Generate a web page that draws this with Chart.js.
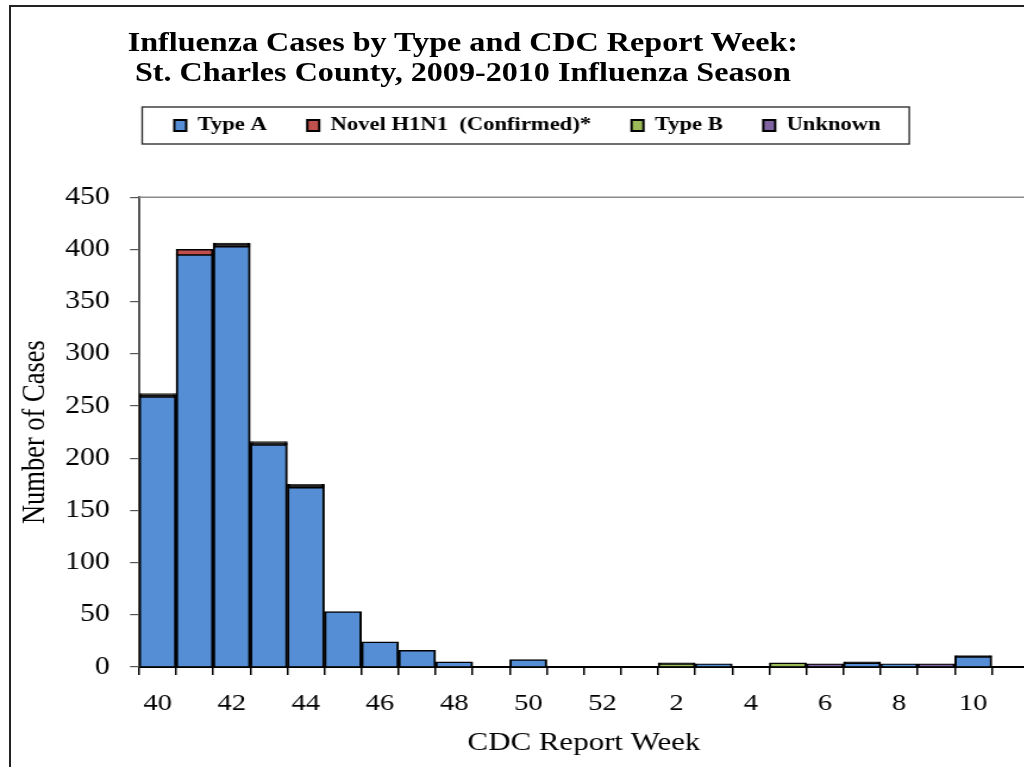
<!DOCTYPE html>
<html>
<head>
<meta charset="utf-8">
<script src="https://cdn.jsdelivr.net/npm/chart.js@4.4.1/dist/chart.umd.min.js"></script>
<style>
  html, body { margin: 0; padding: 0; background: #fff; overflow: hidden; width: 1024px; height: 767px; }
  #frame { position: absolute; left: 9px; top: 5px; width: 1100px; height: 800px; border-left: 2px solid #222; border-top: 2px solid #222; }
  /* the source picture is stretched sideways, so the whole chart is too */
  #wrap { position: absolute; left: 0; top: 0; width: 880px; height: 767px; transform: scaleX(1.19); transform-origin: 0 0; }
  #title { position: absolute; left: 0; top: 27px; width: 778px; text-align: center; font: bold 27px "Liberation Serif"; line-height: 30px; color: #000; }
  canvas { position: absolute; left: 0; top: 0; }
</style>
</head>
<body>
<div id="frame"></div>
<div id="wrap">
  <div id="title">Influenza Cases by Type and CDC Report Week:<br>St. Charles County, 2009-2010 Influenza Season</div>
  <canvas id="chart" width="880" height="767"></canvas>
</div>
<script>
// CDC report weeks, 2009-2010 season
const weeks = [40, 41, 42, 43, 44, 45, 46, 47, 48, 49, 50, 51, 52, 1, 2, 3, 4, 5, 6, 7, 8, 9, 10, 11];
const typeA   = [259, 395, 403, 213, 172, 53, 24, 16, 5, 0, 7, 0, 0, 0, 0, 3, 0, 0, 0, 4, 3, 0, 10, 0];
const novel   = [1, 5, 1, 1, 1, 0, 0, 0, 0, 0, 0, 0, 0, 0, 0, 0, 0, 0, 0, 0, 0, 0, 0, 0];
const typeB   = [1, 0, 1, 1, 1, 0, 0, 0, 0, 0, 0, 0, 0, 0, 3, 0, 0, 4, 0, 0, 0, 0, 0, 0];
const unknown = [1, 0, 1, 1, 1, 0, 0, 0, 0, 0, 0, 0, 0, 0, 1, 0, 0, 0, 3, 1, 0, 3, 1, 0];

const colors = ["#558ED5", "#C0504D", "#9BBB59", "#8064A2"];
const serif = "Liberation Serif";

// border round the legend and the plot area top line
const frames = {
  id: "frames",
  afterLayout(chart) {
    // legend sits a little right of the canvas centre in the original
    chart.legend.left += 11;
    chart.legend.right += 11;
  },
  afterDraw(chart) {
    const ctx = chart.ctx;
    const a = chart.chartArea;
    ctx.save();
    ctx.strokeStyle = "#8a8a8a";
    ctx.lineWidth = 1.5;
    ctx.beginPath();
    ctx.moveTo(a.left, a.top);
    ctx.lineTo(a.right, a.top);
    ctx.lineTo(a.right, a.bottom);
    ctx.stroke();

    const hb = chart.legend.legendHitBoxes;
    const last = hb[hb.length - 1];
    const l = hb[0].left - 27;
    const r = last.left + last.width + 24;
    const t = hb[0].top + hb[0].height / 2 - 18.5;
    ctx.strokeStyle = "#333";
    ctx.lineWidth = 1.4;
    ctx.strokeRect(l, t, r - l, 37);
    ctx.restore();
  },
};

function ds(label, data, color) {
  return {
    label: label,
    data: data,
    // one- and two-case slices come out as solid black in the original
    backgroundColor: (c) => (c.raw !== undefined && c.raw > 0 && c.raw <= 2 ? "#000" : color),
    borderColor: "#000",
    borderWidth: { top: 1.5, bottom: 0.5, left: 2, right: 2 },
    borderSkipped: false,
    categoryPercentage: 1,
    barPercentage: 1,
  };
}

new Chart(document.getElementById("chart"), {
  type: "bar",
  data: {
    labels: weeks,
    datasets: [
      ds("Type A", typeA, colors[0]),
      ds("Novel H1N1  (Confirmed)*", novel, colors[1]),
      ds("Type B", typeB, colors[2]),
      ds("Unknown", unknown, colors[3]),
    ],
  },
  options: {
    responsive: false,
    animation: false,
    layout: { padding: { top: 82, right: 15.4, bottom: 0, left: 0 } },
    plugins: {
      tooltip: { enabled: false },
      legend: {
        position: "top",
        labels: {
          color: "#000",
          font: { family: serif, size: 19, weight: "bold" },
          boxWidth: 10,
          boxHeight: 11,
          padding: 34,
          generateLabels: (chart) =>
            Chart.defaults.plugins.legend.labels.generateLabels(chart).map((l, i) => ({
              ...l,
              fillStyle: colors[i],
              lineWidth: 2,
            })),
        },
      },
      // empty spacer between legend and plot
      title: { display: true, text: " ", weight: 500, font: { size: 1 }, padding: { top: 0, bottom: 51 } },
    },
    scales: {
      x: {
        stacked: true,
        afterFit: (s) => { s.height = 100; },
        border: { color: "#000", width: 2 },
        grid: { drawOnChartArea: false, drawTicks: true, tickLength: 8, color: "#000", lineWidth: 1.5 },
        ticks: {
          autoSkip: false,
          maxRotation: 0,
          padding: 14,
          color: "#000",
          font: { family: serif, size: 24 },
          callback: (v, i) => (i % 2 === 0 ? weeks[i] : ""),
        },
        title: {
          display: true,
          text: "CDC Report Week",
          color: "#000",
          font: { family: serif, size: 26 },
          padding: { top: 0, bottom: 8 },
        },
      },
      y: {
        stacked: true,
        min: 0,
        max: 450,
        afterFit: (s) => { s.width = 116.8; },
        border: { color: "#555", width: 2 },
        grid: { drawOnChartArea: false, drawTicks: true, tickLength: 7.5, color: "#555", lineWidth: 1.2 },
        ticks: {
          stepSize: 50,
          padding: 17,
          color: "#000",
          font: { family: serif, size: 25 },
        },
        title: {
          display: true,
          text: "Number of Cases",
          color: "#000",
          font: { family: serif, size: 26.5 },
          padding: { top: 14, bottom: 0 },
        },
      },
    },
  },
  plugins: [frames],
});
</script>
</body>
</html>
